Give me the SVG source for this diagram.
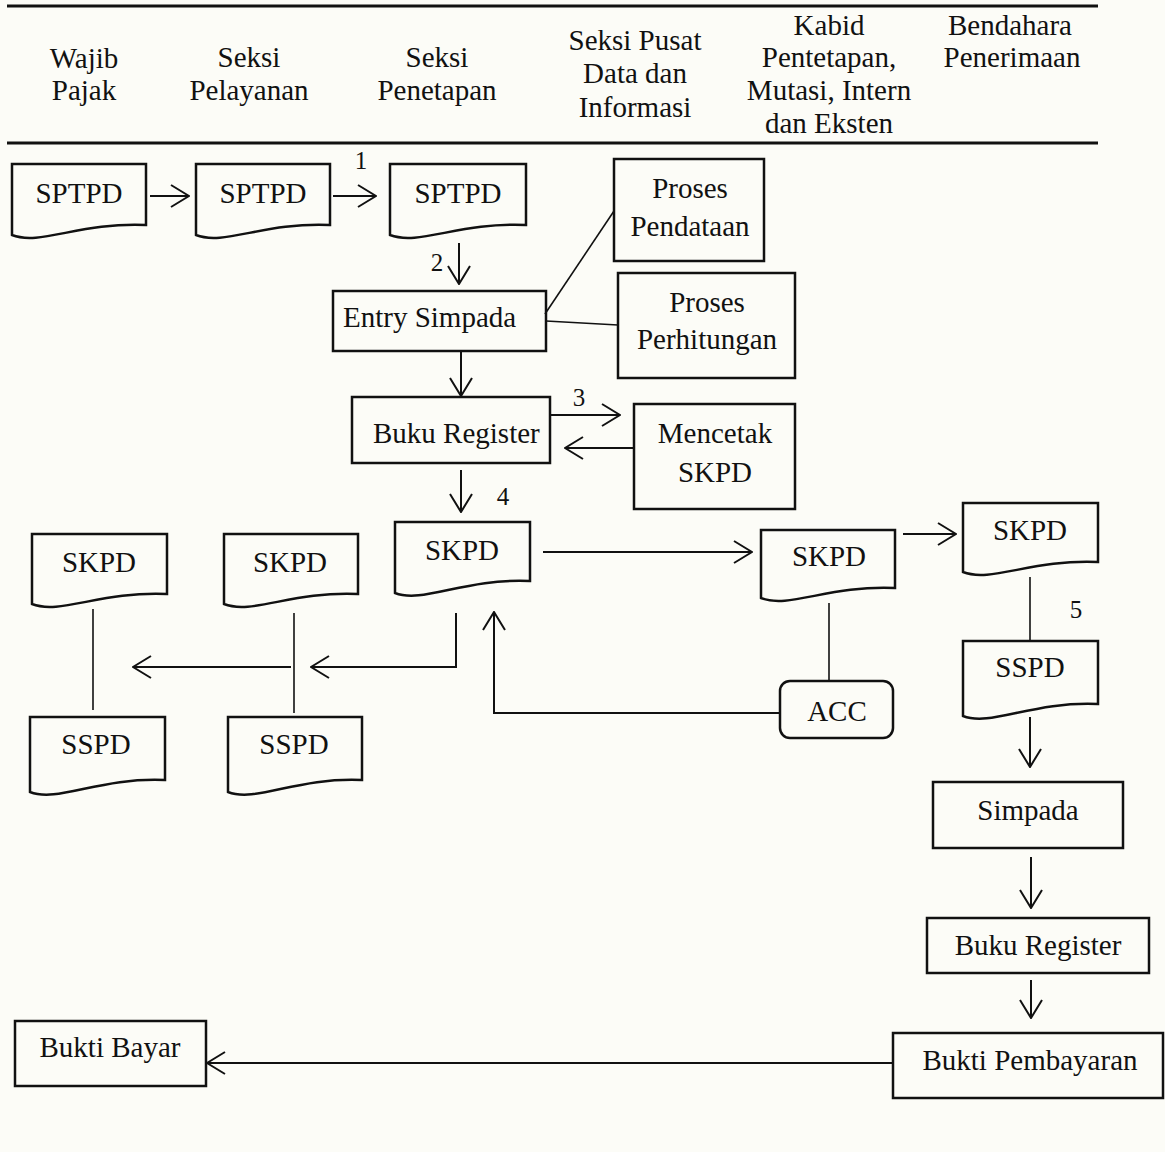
<svg xmlns="http://www.w3.org/2000/svg" width="1165" height="1152" viewBox="0 0 1165 1152">
  <style>
    text { font-family: "Liberation Serif", "Times New Roman", serif; font-size: 29px; fill: #111; }
    .c { text-anchor: middle; }
    .num { font-size: 25px; text-anchor: middle; }
    .shape { fill: none; stroke: #111; stroke-width: 2.5; stroke-linejoin: miter; }
    .rule { stroke: #111; stroke-width: 3; }
    .arrow { fill: none; stroke: #111; stroke-width: 2; marker-end: url(#open); }
    .link { fill: none; stroke: #111; stroke-width: 1.6; }
  </style>
  <defs>
    <marker id="open" viewBox="0 0 20 24" refX="19" refY="12" markerWidth="20" markerHeight="24" markerUnits="userSpaceOnUse" orient="auto">
      <path d="M1,1 L19,12 L1,23" fill="none" stroke="#111" stroke-width="2"/>
    </marker>
  </defs>

  <rect width="1165" height="1152" fill="#fcfcf7"/>

  <!-- lane header -->
  <g id="header">
    <line class="rule" x1="7" y1="6" x2="1098" y2="6"/>
    <line class="rule" x1="7" y1="143" x2="1098" y2="143"/>
    <text class="c" x="84" y="68">Wajib</text>
    <text class="c" x="84" y="100">Pajak</text>
    <text class="c" x="249" y="67">Seksi</text>
    <text class="c" x="249" y="100">Pelayanan</text>
    <text class="c" x="437" y="67">Seksi</text>
    <text class="c" x="437" y="100">Penetapan</text>
    <text class="c" x="635" y="50">Seksi Pusat</text>
    <text class="c" x="635" y="83">Data dan</text>
    <text class="c" x="635" y="117">Informasi</text>
    <text class="c" x="829" y="35">Kabid</text>
    <text class="c" x="829" y="67">Pentetapan,</text>
    <text class="c" x="829" y="100">Mutasi, Intern</text>
    <text class="c" x="829" y="133">dan Eksten</text>
    <text class="c" x="1010" y="35">Bendahara</text>
    <text class="c" x="1012" y="67">Penerimaan</text>
  </g>

  <!-- connectors -->
  <g id="connectors">
    <line class="arrow" x1="150" y1="196" x2="189" y2="196"/>
    <line class="arrow" x1="333" y1="196" x2="376" y2="196"/>
    <line class="arrow" x1="459" y1="243" x2="459" y2="284"/>
    <line class="arrow" x1="461" y1="351" x2="461" y2="396"/>
    <line class="link" x1="545" y1="314" x2="614" y2="211"/>
    <line class="link" x1="546" y1="321" x2="618" y2="325"/>
    <line class="arrow" x1="550" y1="415" x2="620" y2="415"/>
    <line class="arrow" x1="634" y1="448" x2="565" y2="448"/>
    <line class="arrow" x1="461" y1="470" x2="461" y2="512"/>
    <line class="arrow" x1="543" y1="552" x2="752" y2="552"/>
    <line class="arrow" x1="903" y1="534" x2="956" y2="534"/>
    <line class="link" x1="829" y1="603" x2="829" y2="681"/>
    <polyline class="arrow" points="780,713 494,713 494,612"/>
    <polyline class="arrow" points="456,613 456,667 311,667"/>
    <line class="arrow" x1="291" y1="667" x2="133" y2="667"/>
    <line class="link" x1="93" y1="609" x2="93" y2="710"/>
    <line class="link" x1="294" y1="613" x2="294" y2="713"/>
    <line class="link" x1="1030" y1="577" x2="1030" y2="640"/>
    <line class="arrow" x1="1030" y1="717" x2="1030" y2="767"/>
    <line class="arrow" x1="1031" y1="857" x2="1031" y2="908"/>
    <line class="arrow" x1="1031" y1="980" x2="1031" y2="1018"/>
    <line class="arrow" x1="893" y1="1063" x2="207" y2="1063"/>
    <text class="num" x="361" y="169">1</text>
    <text class="num" x="437" y="271">2</text>
    <text class="num" x="579" y="406">3</text>
    <text class="num" x="503" y="505">4</text>
    <text class="num" x="1076" y="618">5</text>
  </g>

  <!-- documents: flat top, wavy bottom (trough on the left, rising to the right corner) -->
  <g id="sptpd-wp">
    <path class="shape" d="M12,164 H146 V225 C80,222 40,246 12,235 Z"/>
    <text class="c" x="79" y="203">SPTPD</text>
  </g>
  <g id="sptpd-pelayanan">
    <path class="shape" d="M196,164 H330 V225 C264,222 224,246 196,235 Z"/>
    <text class="c" x="263" y="203">SPTPD</text>
  </g>
  <g id="sptpd-penetapan">
    <path class="shape" d="M390,164 H526 V225 C459,222 419,246 390,235 Z"/>
    <text class="c" x="458" y="203">SPTPD</text>
  </g>

  <g id="proses-pendataan">
    <rect class="shape" x="614" y="159" width="150" height="102"/>
    <text class="c" x="690" y="198">Proses</text>
    <text class="c" x="690" y="236">Pendataan</text>
  </g>
  <g id="entry-simpada">
    <rect class="shape" x="333" y="291" width="213" height="60"/>
    <text x="343" y="327">Entry Simpada</text>
  </g>
  <g id="proses-perhitungan">
    <rect class="shape" x="618" y="273" width="177" height="105"/>
    <text class="c" x="707" y="312">Proses</text>
    <text class="c" x="707" y="349">Perhitungan</text>
  </g>
  <g id="buku-register-penetapan">
    <rect class="shape" x="352" y="397" width="198" height="66"/>
    <text x="373" y="443">Buku Register</text>
  </g>
  <g id="mencetak-skpd">
    <rect class="shape" x="634" y="404" width="161" height="105"/>
    <text class="c" x="715" y="443">Mencetak</text>
    <text class="c" x="715" y="482">SKPD</text>
  </g>

  <g id="skpd-penetapan">
    <path class="shape" d="M395,522 H530 V581 C464,578 423,604 395,593 Z"/>
    <text class="c" x="462" y="560">SKPD</text>
  </g>
  <g id="skpd-wp">
    <path class="shape" d="M32,534 H167 V594 C101,591 60,615 32,604 Z"/>
    <text class="c" x="99" y="572">SKPD</text>
  </g>
  <g id="skpd-pelayanan">
    <path class="shape" d="M224,534 H358 V594 C292,591 252,615 224,604 Z"/>
    <text class="c" x="290" y="572">SKPD</text>
  </g>
  <g id="sspd-wp">
    <path class="shape" d="M30,717 H165 V780 C99,777 58,803 30,792 Z"/>
    <text class="c" x="96" y="754">SSPD</text>
  </g>
  <g id="sspd-pelayanan">
    <path class="shape" d="M228,717 H362 V780 C296,777 256,803 228,792 Z"/>
    <text class="c" x="294" y="754">SSPD</text>
  </g>

  <g id="skpd-kabid">
    <path class="shape" d="M761,530 H895 V588 C829,585 789,609 761,598 Z"/>
    <text class="c" x="829" y="566">SKPD</text>
  </g>
  <g id="acc">
    <rect class="shape" x="780" y="681" width="113" height="57" rx="10"/>
    <text class="c" x="837" y="721">ACC</text>
  </g>

  <g id="skpd-bendahara">
    <path class="shape" d="M963,503 H1098 V562 C1032,559 991,583 963,572 Z"/>
    <text class="c" x="1030" y="540">SKPD</text>
  </g>
  <g id="sspd-bendahara">
    <path class="shape" d="M963,641 H1098 V704 C1032,701 991,727 963,716 Z"/>
    <text class="c" x="1030" y="677">SSPD</text>
  </g>
  <g id="simpada">
    <rect class="shape" x="933" y="782" width="190" height="66"/>
    <text class="c" x="1028" y="820">Simpada</text>
  </g>
  <g id="buku-register-bendahara">
    <rect class="shape" x="927" y="918" width="222" height="55"/>
    <text class="c" x="1038" y="955">Buku Register</text>
  </g>
  <g id="bukti-pembayaran">
    <rect class="shape" x="893" y="1033" width="270" height="65"/>
    <text class="c" x="1030" y="1070">Bukti Pembayaran</text>
  </g>
  <g id="bukti-bayar">
    <rect class="shape" x="15" y="1021" width="191" height="65"/>
    <text class="c" x="110" y="1057">Bukti Bayar</text>
  </g>
</svg>
